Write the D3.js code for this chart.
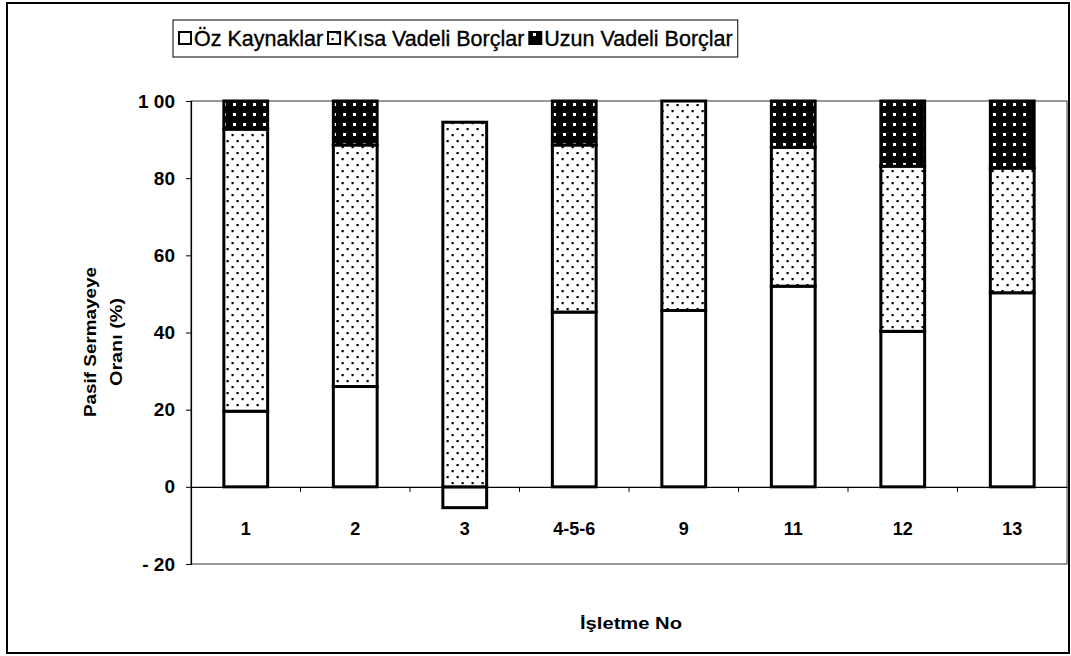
<!DOCTYPE html>
<html>
<head>
<meta charset="utf-8">
<script src="https://cdn.jsdelivr.net/npm/d3@7"></script>
<style>
body { margin: 0; background: #fff; }
text { font-family: "Liberation Sans", Arial, sans-serif; fill: #000; }
</style>
</head>
<body>
<script>
// data
var categories = ["1", "2", "3", "4-5-6", "9", "11", "12", "13"];
var ozKaynaklar = [19.6, 26.0, -5.4, 45.3, 45.7, 52.0, 40.3, 50.3];
var kisaVadeli = [73.1, 62.6, 94.5, 43.3, 54.3, 36.0, 42.8, 32.3];
var uzunVadeli = [7.3, 11.4, 0, 11.4, 0, 12.0, 16.9, 17.4];
var seriesNames = ["Öz Kaynaklar", "Kısa Vadeli Borçlar", "Uzun Vadeli Borçlar"];
var yTicks = [-20, 0, 20, 40, 60, 80, 100];
var yTickLabels = ["- 20", "0", "20", "40", "60", "80", "1 00"];

var width = 1071, height = 656;
var plot = {left: 191, right: 1067, top: 101, bottom: 564};

var svg = d3.select("body").append("svg")
	.attr("width", width)
	.attr("height", height);

// patterns
var defs = svg.append("defs");
var dots = defs.append("pattern")
	.attr("id", "dots")
	.attr("patternUnits", "userSpaceOnUse")
	.attr("width", 10).attr("height", 12);
dots.append("rect").attr("width", 10).attr("height", 12).attr("fill", "#fff");
dots.append("rect").attr("x", 1.5).attr("y", 2).attr("width", 2.2).attr("height", 2.2).attr("fill", "#000");
dots.append("rect").attr("x", 6.5).attr("y", 8).attr("width", 2.2).attr("height", 2.2).attr("fill", "#000");

var grid = defs.append("pattern")
	.attr("id", "grid")
	.attr("patternUnits", "userSpaceOnUse")
	.attr("width", 10).attr("height", 10);
grid.append("rect").attr("width", 10).attr("height", 10).attr("fill", "#000");
grid.append("rect").attr("x", 3).attr("y", 3).attr("width", 3).attr("height", 3).attr("fill", "#fff");

var fills = ["#fff", "url(#dots)", "url(#grid)"];

// outer frame
svg.append("rect")
	.attr("x", 7).attr("y", 3)
	.attr("width", 1062).attr("height", 650)
	.attr("fill", "none")
	.attr("stroke", "#000")
	.attr("stroke-width", 2);

var x = d3.scaleBand()
	.domain(categories)
	.range([plot.left, plot.right])
	.paddingInner(0.6)
	.paddingOuter(0.3);

var y = d3.scaleLinear()
	.domain([-20, 100])
	.range([plot.bottom, plot.top]);

// plot border
svg.append("rect")
	.attr("x", plot.left).attr("y", plot.top)
	.attr("width", plot.right - plot.left)
	.attr("height", plot.bottom - plot.top)
	.attr("fill", "none")
	.attr("stroke", "#333")
	.attr("stroke-width", 1);

var table = categories.map(function(c, i) {
	return {cat: c, s0: ozKaynaklar[i], s1: kisaVadeli[i], s2: uzunVadeli[i]};
});
var stack = d3.stack()
	.keys(["s0", "s1", "s2"])
	.offset(d3.stackOffsetDiverging);
var stacked = stack(table);

// x axis line at 0
var xAxis = d3.axisBottom(x).tickSize(0).tickFormat("");
svg.append("g")
	.attr("transform", "translate(0," + y(0) + ")")
	.call(xAxis)
	.call(function(g) { g.select(".domain").attr("stroke", "#000").attr("stroke-width", 1.2); });

// ticks between categories
var bounds = d3.range(1, categories.length).map(function(i) { return x(categories[i]) - x.step() * x.paddingInner() / 2; });
svg.append("g").selectAll("line").data(bounds).enter().append("line")
	.attr("x1", function(d) { return d; }).attr("x2", function(d) { return d; })
	.attr("y1", y(0)).attr("y2", y(0) + 5)
	.attr("stroke", "#000");

// bars
svg.append("g").selectAll("g").data(stacked).enter().append("g")
	.attr("fill", function(d, i) { return fills[i]; })
	.selectAll("rect")
	.data(function(d) { return d.filter(function(p) { return p[1] - p[0] !== 0; }); })
	.enter().append("rect")
	.attr("x", function(d) { return x(d.data.cat); })
	.attr("width", x.bandwidth())
	.attr("y", function(d) { return y(Math.max(d[0], d[1])); })
	.attr("height", function(d) { return Math.abs(y(d[0]) - y(d[1])); })
	.attr("stroke", "#000")
	.attr("stroke-width", 3);

// x labels
svg.append("g").selectAll("text").data(categories).enter().append("text")
	.attr("x", function(d) { return x(d) + x.bandwidth() / 2; })
	.attr("y", 535)
	.attr("text-anchor", "middle")
	.attr("font-size", "18px")
	.attr("font-weight", "bold")
	.text(function(d) { return d; });

// y axis
var yAxis = d3.axisLeft(y).tickValues(yTicks).tickSize(5)
	.tickFormat(function(d, i) { return yTickLabels[i]; });
svg.append("g")
	.attr("transform", "translate(" + plot.left + ",0)")
	.call(yAxis)
	.call(function(g) {
		g.select(".domain").attr("stroke", "#000").attr("stroke-width", 1.2);
		g.selectAll(".tick line").attr("stroke", "#000");
		g.selectAll(".tick text")
			.attr("x", -16)
			.attr("font-size", "19px")
			.attr("font-weight", "bold")
			.attr("font-family", "Liberation Sans, Arial, sans-serif")
			.attr("fill", "#000");
	});

// y title
var yTitle = svg.append("text")
	.attr("transform", "translate(96,342) rotate(-90)")
	.attr("text-anchor", "middle")
	.attr("font-size", "16px")
	.attr("font-weight", "bold");
yTitle.append("tspan").attr("x", 0).attr("dy", 0)
	.attr("textLength", 150).attr("lengthAdjust", "spacingAndGlyphs")
	.text("Pasif Sermayeye");
yTitle.append("tspan").attr("x", 0).attr("dy", 26)
	.attr("textLength", 88).attr("lengthAdjust", "spacingAndGlyphs")
	.text("Oranı (%)");

// x title
svg.append("text")
	.attr("x", 631).attr("y", 629)
	.attr("text-anchor", "middle")
	.attr("font-size", "17px")
	.attr("font-weight", "bold")
	.attr("textLength", 102).attr("lengthAdjust", "spacingAndGlyphs")
	.text("İşletme No");

// legend
var legend = svg.append("g");
var lx = 179;
seriesNames.forEach(function(name, i) {
	legend.append("rect")
		.attr("x", lx).attr("y", 32)
		.attr("width", 12).attr("height", 12)
		.attr("fill", fills[i])
		.attr("stroke", "#000")
		.attr("stroke-width", 2);
	var t = legend.append("text")
		.attr("x", lx + 15).attr("y", 46)
		.attr("font-size", "21.5px")
		.attr("stroke", "#000")
		.attr("stroke-width", 0.35)
		.text(name);
	lx = lx + 15 + t.node().getComputedTextLength() + 5;
});
svg.insert("rect", "g")
	.attr("x", 173).attr("y", 20)
	.attr("width", lx - 173).attr("height", 37)
	.attr("fill", "#fff")
	.attr("stroke", "#000")
	.attr("stroke-width", 1);
</script>
</body>
</html>
